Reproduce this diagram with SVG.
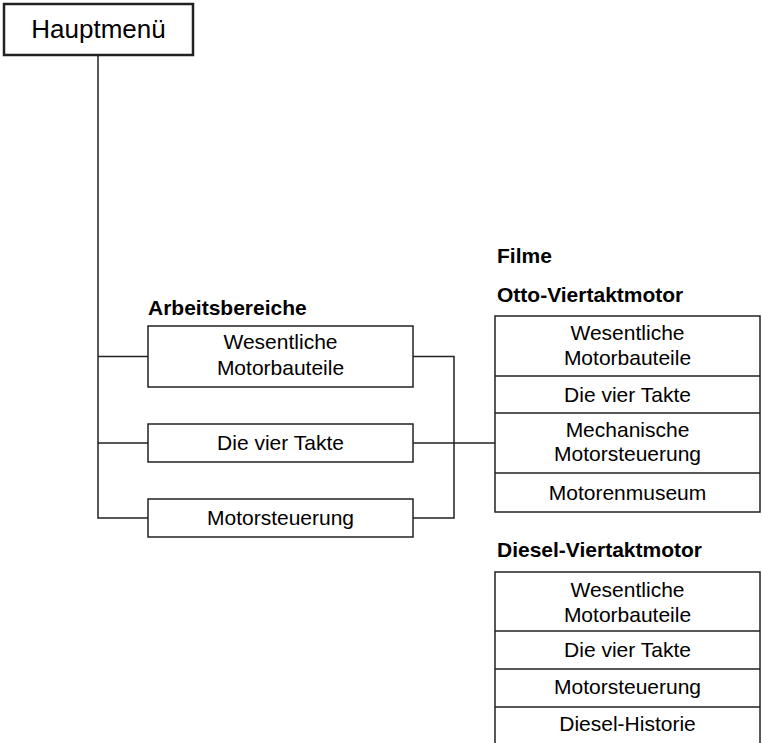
<svg xmlns="http://www.w3.org/2000/svg" width="762" height="743" viewBox="0 0 762 743">
<style>
.box{fill:#fff;stroke:#222;stroke-width:1.5}
.t{font-family:"Liberation Sans",Arial,sans-serif;font-size:21px;fill:#000;text-anchor:middle}
.b{font-family:"Liberation Sans",Arial,sans-serif;font-size:21px;font-weight:bold;fill:#000}
.c{fill:none;stroke:#222;stroke-width:1.5}
</style>
<rect width="762" height="743" fill="#fff"/>
<g id="connectors">
<path class="c" d="M98 55 V518 H148 M98 356.5 H148 M98 443 H148"/>
<path class="c" d="M413 356.5 H454 V518 H413 M413 443 H495"/>
</g>
<g id="hauptmenu">
<rect x="4" y="4" width="189" height="51" fill="#fff" stroke="#222" stroke-width="2.5"/>
<text class="t" x="98.5" y="38" style="font-size:26px">Hauptmenü</text>
</g>
<g id="arbeitsbereiche">
<text class="b" x="148" y="315">Arbeitsbereiche</text>
</g>
<g id="ab-motorbauteile">
<rect class="box" x="148" y="326" width="265" height="61"/>
<text class="t" x="280.5" y="349">Wesentliche</text>
<text class="t" x="280.5" y="375">Motorbauteile</text>
</g>
<g id="ab-takte">
<rect class="box" x="148" y="424" width="265" height="38"/>
<text class="t" x="280.5" y="450">Die vier Takte</text>
</g>
<g id="ab-steuerung">
<rect class="box" x="148" y="499" width="265" height="38"/>
<text class="t" x="280.5" y="525">Motorsteuerung</text>
</g>
<g id="filme">
<text class="b" x="497" y="263">Filme</text>
<text class="b" x="497" y="302">Otto-Viertaktmotor</text>
</g>
<g id="otto">
<rect class="box" x="495" y="316" width="265" height="196"/>
<path class="c" d="M495 376 H760 M495 413 H760 M495 473 H760"/>
<text class="t" x="627.5" y="339.5">Wesentliche</text>
<text class="t" x="627.5" y="364.5">Motorbauteile</text>
<text class="t" x="627.5" y="402">Die vier Takte</text>
<text class="t" x="627.5" y="437">Mechanische</text>
<text class="t" x="627.5" y="461">Motorsteuerung</text>
<text class="t" x="627.5" y="500">Motorenmuseum</text>
</g>
<g id="diesel">
<text class="b" x="497" y="557">Diesel-Viertaktmotor</text>
<rect class="box" x="495" y="572" width="265" height="180"/>
<path class="c" d="M495 631 H760 M495 669 H760 M495 707 H760"/>
<text class="t" x="627.5" y="597">Wesentliche</text>
<text class="t" x="627.5" y="622">Motorbauteile</text>
<text class="t" x="627.5" y="657">Die vier Takte</text>
<text class="t" x="627.5" y="694">Motorsteuerung</text>
<text class="t" x="627.5" y="731">Diesel-Historie</text>
</g>
</svg>
